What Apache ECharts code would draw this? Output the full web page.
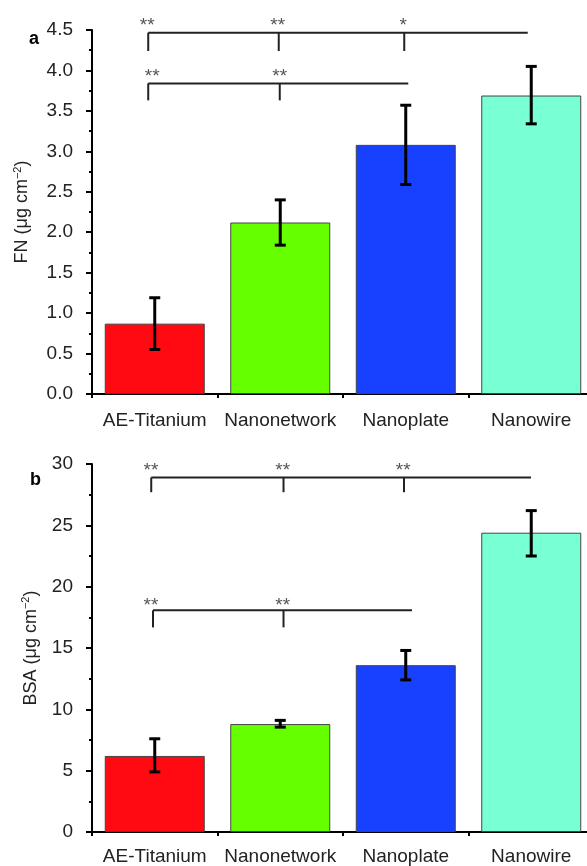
<!DOCTYPE html>
<html>
<head>
<meta charset="utf-8">
<script src="https://cdn.jsdelivr.net/npm/echarts@6/dist/echarts.min.js"></script>
<style>html,body{margin:0;padding:0;background:#fff}#c{width:587px;height:866px}</style>
</head>
<body>
<div id="c"></div>
<script>
// ---- data ----
const categories = ['AE-Titanium', 'Nanonetwork', 'Nanoplate', 'Nanowire'];
const barColors = ['#ff0a12', '#66ff00', '#1740ff', '#78ffd4'];

const fnMean = [0.87, 2.12, 3.08, 3.69];
const fnLow  = [0.55, 1.84, 2.59, 3.34];
const fnHigh = [1.19, 2.40, 3.57, 4.05];

const bsaMean = [6.2, 8.8, 13.6, 24.4];
const bsaLow  = [4.9, 8.55, 12.4, 22.5];
const bsaHigh = [7.6, 9.1, 14.8, 26.2];

// significance brackets (x in category-index units, y in data units)
const fnBracketY     = [4.466, 3.84];
const fnBracketDropY = [4.24, 3.63];
const fnBracketEndX  = [2.972, 2.02];
const fnBracketDropX = [[-0.052, 0.988, 1.988], [-0.052, 0.996]];
const fnStarText     = [['**', '**', '*'], ['**', '**']];
const fnStarX        = [[-0.06, 0.98, 1.98], [-0.02, 0.996]];
const fnStarY        = [4.60, 3.97];

const bsaBracketY     = [28.9, 18.07];
const bsaBracketDropY = [27.7, 16.68];
const bsaBracketEndX  = [2.998, 2.05];
const bsaBracketDropX = [[-0.028, 1.026, 1.986], [-0.014, 1.026]];
const bsaStarText     = [['**', '**', '**'], ['**', '**']];
const bsaStarX        = [[-0.03, 1.02, 1.98], [-0.03, 1.02]];
const bsaStarY        = [29.76, 18.8];

// ---- helpers ----
const FONT = '"Liberation Sans", Arial, Helvetica, sans-serif';

function buildSegments(levels, drops, ends, dropX) {
  const segs = [];
  levels.forEach((y, i) => {
    segs.push([dropX[i][0], y, ends[i], y]);
    dropX[i].forEach(x => segs.push([x, y, x, drops[i]]));
  });
  return segs;
}
function buildStars(xs, ys, texts) {
  const out = [];
  xs.forEach((row, i) => row.forEach((x, j) => out.push({ value: [x, ys[i]], txt: texts[i][j] })));
  return out;
}

function segRender(params, api) {
  const p0 = api.coord([api.value(0), api.value(1)]);
  const p1 = api.coord([api.value(2), api.value(3)]);
  return { type: 'line', shape: { x1: p0[0], y1: p0[1], x2: p1[0], y2: p1[1] },
           style: { stroke: '#222', lineWidth: 2 } };
}
function makeStarRender(data) {
  return function (params, api) {
    const p = api.coord([api.value(0), api.value(1)]);
    return { type: 'text', x: p[0], y: p[1] + 4,
             style: { text: data[params.dataIndex].txt, fill: '#555', font: '19px ' + FONT,
                      textAlign: 'center', textVerticalAlign: 'middle' } };
  };
}
function errRender(params, api) {
  const x = api.value(0);
  const lo = api.coord([x, api.value(1)]);
  const hi = api.coord([x, api.value(2)]);
  const cw = 5.5;
  const st = { stroke: '#000', lineWidth: 3 };
  return { type: 'group', children: [
    { type: 'line', shape: { x1: lo[0], y1: lo[1], x2: hi[0], y2: hi[1] }, style: st },
    { type: 'line', shape: { x1: lo[0] - cw, y1: lo[1], x2: lo[0] + cw, y2: lo[1] }, style: st },
    { type: 'line', shape: { x1: hi[0] - cw, y1: hi[1], x2: hi[0] + cw, y2: hi[1] }, style: st }
  ]};
}

const fnSegs = buildSegments(fnBracketY, fnBracketDropY, fnBracketEndX, fnBracketDropX);
const bsaSegs = buildSegments(bsaBracketY, bsaBracketDropY, bsaBracketEndX, bsaBracketDropX);
const fnStars = buildStars(fnStarX, fnStarY, fnStarText);
const bsaStars = buildStars(bsaStarX, bsaStarY, bsaStarText);

function catAxis(grid, margin) {
  return { type: 'category', gridIndex: grid, data: categories, position: 'bottom',
    axisLine: { onZero: false, lineStyle: { color: '#000', width: 2 } },
    axisTick: { alignWithLabel: true, length: 7, lineStyle: { color: '#000', width: 2 } },
    axisLabel: { interval: 0, color: '#222', fontSize: 19, fontFamily: FONT, margin: margin } };
}
function valXAxis(grid) {
  return { type: 'value', gridIndex: grid, min: -0.5, max: 3.5, interval: 1, position: 'bottom',
    axisLine: { show: false, onZero: false }, splitLine: { show: false }, axisLabel: { show: false },
    axisTick: { show: true, length: 4, lineStyle: { color: '#000', width: 2 } } };
}
function yAxis(grid, max, interval, name, gap, dec) {
  return { type: 'value', gridIndex: grid, min: 0, max: max, interval: interval,
    name: name, nameLocation: 'middle', nameGap: gap, nameRotate: 90,
    nameTextStyle: { color: '#222', fontSize: 18, fontFamily: FONT, lineHeight: 20,
      rich: { sup: { fontSize: 11, lineHeight: 11, verticalAlign: 'top', color: '#222', fontFamily: FONT } } },
    axisLine: { show: true, onZero: false, lineStyle: { color: '#000', width: 2 } },
    axisTick: { show: true, length: 6, lineStyle: { color: '#000', width: 2 } },
    minorTick: { show: true, splitNumber: 2, length: 3, lineStyle: { color: '#000', width: 2 } },
    splitLine: { show: false },
    axisLabel: { color: '#222', fontSize: 19, fontFamily: FONT, margin: 19,
      formatter: v => v.toFixed(dec) } };
}
function bars(grid, vals) {
  return { type: 'bar', xAxisIndex: grid * 2, yAxisIndex: grid, barWidth: 100,
    data: vals.map((v, i) => ({ value: v, itemStyle: { color: barColors[i] } })),
    itemStyle: { borderColor: '#444', borderWidth: 1 }, silent: true };
}
function errs(grid, lo, hi) {
  return { type: 'custom', xAxisIndex: grid * 2, yAxisIndex: grid, renderItem: errRender,
    encode: { x: 0, y: [1, 2] }, data: lo.map((l, i) => [i, l, hi[i]]), z: 5, silent: true };
}
function segSeries(grid, segs) {
  return { type: 'custom', xAxisIndex: grid * 2 + 1, yAxisIndex: grid, renderItem: segRender,
    encode: { x: [0, 2], y: [1, 3] }, data: segs, clip: false, z: 6, silent: true };
}
function starSeries(grid, stars) {
  return { type: 'custom', xAxisIndex: grid * 2 + 1, yAxisIndex: grid, renderItem: makeStarRender(stars),
    encode: { x: 0, y: 1 }, data: stars.map(s => s.value), clip: false, z: 6, silent: true };
}

const chart = echarts.init(document.getElementById('c'), null, { renderer: 'canvas' });
chart.setOption({
  animation: false,
  backgroundColor: '#fff',
  title: [
    { text: 'a', left: 24, top: 25, textStyle: { fontSize: 18, fontWeight: 'bold', color: '#000', fontFamily: FONT } },
    { text: 'b', left: 25, top: 466, textStyle: { fontSize: 18, fontWeight: 'bold', color: '#000', fontFamily: FONT } }
  ],
  grid: [
    { left: 92, top: 30, width: 502, height: 364, outerBoundsMode: 'none', containLabel: false },
    { left: 92, top: 464, width: 502, height: 368, outerBoundsMode: 'none', containLabel: false }
  ],
  xAxis: [catAxis(0, 17), valXAxis(0), catAxis(1, 15), valXAxis(1)],
  yAxis: [
    yAxis(0, 4.5, 0.5, 'FN (μg cm{sup|−2})', 60, 1),
    yAxis(1, 30, 5, 'BSA (μg cm{sup|−2})', 49, 0)
  ],
  series: [
    bars(0, fnMean), errs(0, fnLow, fnHigh), segSeries(0, fnSegs), starSeries(0, fnStars),
    bars(1, bsaMean), errs(1, bsaLow, bsaHigh), segSeries(1, bsaSegs), starSeries(1, bsaStars)
  ]
});
</script>
</body>
</html>
